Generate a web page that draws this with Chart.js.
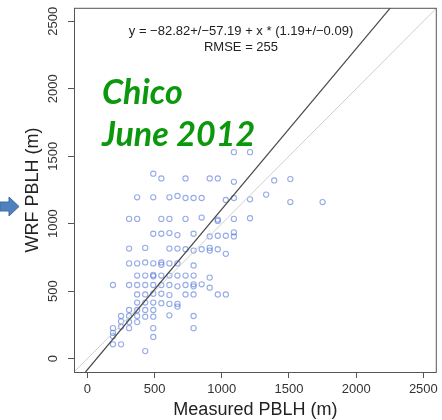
<!DOCTYPE html>
<html>
<head>
<meta charset="utf-8">
<script src="https://cdn.jsdelivr.net/npm/chart.js@4.4.1/dist/chart.umd.min.js"></script>
<style>
body { margin: 0; background: #fff; }
</style>
</head>
<body>
<canvas id="grafico" width="442" height="420"></canvas>
<script>
// measured vs WRF boundary layer heights (m)
const measured = [
    1090, 1210, 490, 550, 730, 910, 970, 1090, 1390, 1510,
    370, 490, 610, 670, 730, 790, 850, 1030, 1090, 1210, 1330, 1510, 1750,
    310, 370, 550, 610, 730, 850, 970, 970, 1090, 1210,
    490, 550, 610, 670, 790, 910, 970, 1030, 1090, 1090,
    310, 430, 610, 670, 730, 790, 850, 910, 910, 970, 1030,
    310, 370, 430, 490, 550, 550, 610, 670, 790,
    370, 430, 490, 490, 550, 610, 670, 730, 790, 910,
    190, 310, 370, 430, 490, 550, 610, 670, 730, 790, 790, 850, 910,
    370, 430, 490, 550, 610, 730, 790, 970, 1030,
    370, 430, 490, 550, 610, 670, 670,
    310, 370, 430, 490,
    250, 310, 370, 430, 490, 610, 790,
    250, 310, 370,
    190, 250, 310, 490, 790,
    190, 190, 490, 190, 250, 430
];
const wrf = [
    1530, 1530, 1370, 1335, 1335, 1335, 1335, 1310, 1320, 1330,
    1195, 1195, 1195, 1205, 1190, 1190, 1190, 1175, 1190, 1180, 1215, 1160, 1160,
    1035, 1035, 1035, 1035, 1035, 1045, 1030, 1020, 1035, 1040,
    925, 925, 930, 915, 925, 905, 910, 910, 935, 905,
    815, 820, 815, 815, 810, 800, 810, 820, 800, 810, 776,
    705, 705, 712, 705, 712, 695, 705, 705, 690,
    615, 615, 620, 610, 615, 615, 615, 615, 615, 600,
    545, 545, 545, 545, 545, 545, 545, 535, 545, 550, 535, 550, 525,
    475, 475, 480, 480, 470, 475, 475, 475, 475,
    415, 415, 415, 410, 405, 405, 385,
    360, 360, 360, 360,
    315, 315, 315, 310, 310, 320, 315,
    275, 270, 270,
    225, 235, 225, 225, 225,
    190, 165, 160, 105, 105, 55
];

const tickVals = [0, 500, 1000, 1500, 2000, 2500];
const axisMin = -100;
const axisMax = 2600;

// fit: y = a + b * x
const intercept = -82.82;
const slope = 1.19;
const equationText = 'y = \u221282.82+/\u221257.19 + x * (1.19+/\u22120.09)';
const rmseText = 'RMSE = 255';
const siteText = ['Chico', 'June 2012'];

const puntos = measured.map((x, i) => ({ x: x, y: wrf[i] }));
const lineaUno = [{ x: axisMin, y: axisMin }, { x: axisMax, y: axisMax }];
const lineaAjuste = [
    { x: (axisMin - intercept) / slope, y: axisMin },
    { x: (axisMax - intercept) / slope, y: axisMax }
];

const extras = {
    id: 'extras',
    afterDraw(chart) {
        const { ctx, chartArea: a } = chart;
        ctx.save();

        // box round the plot
        ctx.strokeStyle = '#555';
        ctx.lineWidth = 1;
        ctx.strokeRect(a.left + 0.5, a.top + 0.5, a.right - a.left - 1, a.bottom - a.top);

        // regression text
        ctx.fillStyle = '#222';
        ctx.font = '13px "Liberation Sans", Arial, sans-serif';
        ctx.textAlign = 'center';
        ctx.textBaseline = 'middle';
        ctx.fillText(equationText, a.left + 167, a.top + 24);
        ctx.fillText(rmseText, a.left + 167, a.top + 40);

        // site label
        ctx.fillStyle = '#0c980c';
        ctx.font = 'italic bold 34px Lato, sans-serif';
        ctx.textAlign = 'left';
        ctx.textBaseline = 'alphabetic';
        ctx.fillText(siteText[0], a.left + 28, a.top + 96);
        ctx.fillText(siteText[1], a.left + 28, a.top + 138);

        // arrow at the left edge
        ctx.fillStyle = '#4f81bd';
        ctx.strokeStyle = '#3d6ca8';
        ctx.beginPath();
        ctx.moveTo(0, 202);
        ctx.lineTo(9, 202);
        ctx.lineTo(9, 197);
        ctx.lineTo(19, 206.5);
        ctx.lineTo(9, 216);
        ctx.lineTo(9, 211);
        ctx.lineTo(0, 211);
        ctx.closePath();
        ctx.fill();
        ctx.stroke();

        ctx.restore();
    }
};

const fuente = { family: '"Liberation Sans", Arial, sans-serif', size: 13 };
const plano = (v) => String(v);

const ctx = document.getElementById('grafico').getContext('2d');
const chart = new Chart(ctx, {
    type: 'scatter',
    data: {
        datasets: [
            {
                data: puntos,
                pointRadius: 2.6,
                pointBorderWidth: 1.1,
                pointBackgroundColor: 'rgba(0,0,0,0)',
                pointBorderColor: 'rgba(80,115,215,0.6)',
                order: 3
            },
            {
                type: 'line',
                data: lineaUno,
                borderColor: '#cfcfcf',
                borderWidth: 1,
                pointRadius: 0,
                order: 2
            },
            {
                type: 'line',
                data: lineaAjuste,
                borderColor: '#4a4a4a',
                borderWidth: 1.2,
                pointRadius: 0,
                order: 1
            }
        ]
    },
    options: {
        responsive: false,
        animation: false,
        layout: { padding: { top: 7, right: 4, left: 0, bottom: 0 } },
        plugins: {
            legend: { display: false },
            tooltip: { enabled: false }
        },
        scales: {
            x: {
                type: 'linear',
                min: axisMin,
                max: axisMax,
                afterBuildTicks: (scale) => { scale.ticks = tickVals.map(v => ({ value: v })); },
                afterFit: (scale) => { scale.height = 48; },
                ticks: { font: fuente, color: '#333', padding: 4, maxRotation: 0, callback: plano },
                grid: { drawOnChartArea: false, drawTicks: true, tickLength: 6, color: '#555' },
                border: { display: false },
                title: {
                    display: true,
                    text: 'Measured PBLH (m)',
                    color: '#222',
                    font: { family: '"Liberation Sans", Arial, sans-serif', size: 18, lineHeight: 1.1 },
                    padding: { top: 0, bottom: 0 }
                }
            },
            y: {
                type: 'linear',
                min: axisMin,
                max: axisMax,
                afterBuildTicks: (scale) => { scale.ticks = tickVals.map(v => ({ value: v })); },
                afterFit: (scale) => { scale.width = 74; },
                ticks: { font: fuente, color: '#333', padding: 0, minRotation: 90, maxRotation: 90, crossAlign: 'center', callback: plano },
                grid: { drawOnChartArea: false, drawTicks: true, tickLength: 6, color: '#555' },
                border: { display: false },
                title: {
                    display: true,
                    text: 'WRF PBLH (m)',
                    color: '#222',
                    font: { family: '"Liberation Sans", Arial, sans-serif', size: 18, lineHeight: 1.1 },
                    padding: { top: 23, bottom: 0 }
                }
            }
        }
    },
    plugins: [extras]
});
</script>
</body>
</html>
